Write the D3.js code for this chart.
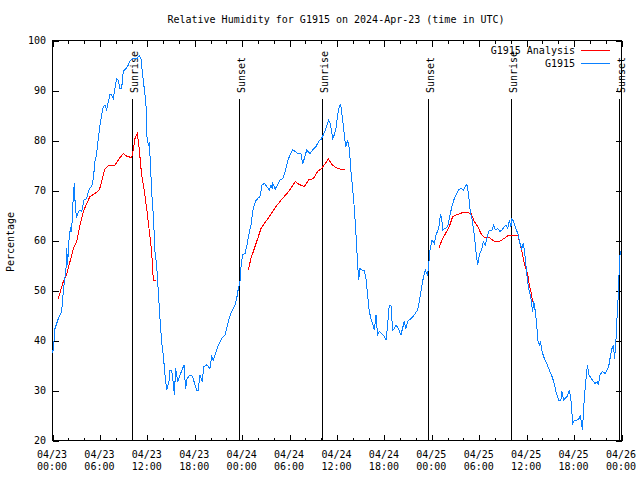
<!DOCTYPE html>
<html><head><meta charset="utf-8">
<script src="https://cdn.jsdelivr.net/npm/d3@7"></script>
<style>
body{margin:0;background:#fff;}
svg{display:block;}
text{font-family:"DejaVu Sans Mono","Liberation Mono",monospace;font-size:10px;fill:#000;}
</style></head><body>
<svg id="chart" width="640" height="480"></svg>
<script>
// ---- data ----
const titleText = "Relative Humidity for G1915 on 2024-Apr-23 (time in UTC)";
const yLabelText = "Percentage";
const seriesNames = ["G1915 Analysis", "G1915"];
const seriesColors = ["#ff0000", "#0a80ff"];
const startTime = "2024-04-23T00:00Z";
const endTime = "2024-04-26T00:00Z";
const yTicks = [20, 30, 40, 50, 60, 70, 80, 90, 100];
const sunEventTimes = ["2024-04-23T10:10Z","2024-04-23T23:42Z","2024-04-24T10:08Z","2024-04-24T23:37Z","2024-04-25T10:05Z","2024-04-25T23:43Z"];
const sunEventLabels = ["Sunrise","Sunset","Sunrise","Sunset","Sunrise","Sunset"];

// observations: hours since start, RH %
const obsHours = [0.0,0.17,0.38,0.8,1.22,1.43,1.77,1.86,1.97,2.19,2.36,2.48,2.7,2.83,2.95,3.12,3.46,3.75,4.05,4.39,4.72,5.02,5.23,5.44,5.65,5.86,6.07,6.28,6.5,6.71,6.92,7.13,7.34,7.55,7.76,7.97,8.18,8.39,8.6,8.81,9.02,9.36,9.66,9.87,10.2,10.5,10.71,11.05,11.26,11.47,11.77,11.9,11.98,12.19,12.32,12.48,12.61,12.82,13.03,13.24,13.45,13.66,13.87,14.08,14.3,14.51,14.72,14.85,14.93,15.14,15.35,15.48,15.65,15.9,16.2,16.7,16.9,17.1,17.46,17.8,17.97,18.3,18.5,18.73,19.0,19.23,19.57,19.78,19.99,20.2,20.41,20.62,21.05,21.47,21.89,22.31,22.73,23.15,23.37,23.58,23.79,23.9,24.1,24.43,24.68,24.89,25.18,25.39,25.73,26.03,26.32,26.57,26.87,27.17,27.5,27.7,27.88,27.95,28.25,28.85,29.2,29.52,29.8,30.11,30.45,30.79,31.08,31.5,31.72,31.93,32.23,32.65,32.99,33.4,33.74,34.08,34.33,34.67,35.01,35.22,35.51,35.72,35.93,36.15,36.36,36.53,36.7,36.86,37.03,37.2,37.41,37.62,37.83,38.04,38.26,38.47,38.68,38.8,38.97,39.22,39.52,39.73,39.94,40.15,40.36,40.57,40.78,41.0,41.2,41.42,41.7,42.05,42.26,42.47,42.68,42.89,43.1,43.31,43.52,43.83,44.15,44.57,44.78,44.99,45.42,45.84,46.26,46.47,46.68,46.89,47.23,47.52,47.67,47.8,48.08,48.38,48.59,48.93,49.14,49.3,49.43,49.75,50.07,50.36,50.61,50.91,51.2,51.46,51.75,52.05,52.3,52.51,52.72,52.93,53.14,53.44,53.65,53.86,54.07,54.41,54.58,54.83,55.13,55.34,55.68,55.89,56.1,56.4,56.69,56.94,57.24,57.45,57.66,57.87,58.08,58.2,58.4,58.71,59.0,59.22,59.43,59.64,59.8,59.97,60.18,60.4,60.61,60.82,60.95,61.16,61.33,61.5,61.67,61.8,62.01,62.3,62.6,62.93,63.27,63.56,63.77,64.11,64.4,64.53,64.74,65.17,65.47,65.68,65.89,66.15,66.45,66.69,66.86,67.12,67.33,67.54,67.75,67.96,68.38,68.72,69.0,69.14,69.35,69.65,69.99,70.44,70.61,70.86,71.03,71.2,71.37,71.54,71.71,71.79,71.92,72.0];
const obsRH = [37.5,38,42.3,44.3,45.7,49.7,54.3,58.3,55,61,62.3,61.7,69,71.3,66.3,64.7,66,65.7,68,68.3,70.3,70.7,72.3,75.7,77.3,80.3,83,85,86.7,87,86,87.7,89.1,89,88.3,90.3,92.3,92,90.3,90.3,93.7,94.3,95,95.8,96.3,96.3,96.2,96.9,96.3,93,89,86.7,81,79,79.3,74.3,69.7,65,57.7,55,49.7,44.3,39.7,37,33,30,31.3,32,34,34,31.3,29,34.3,31.7,33,35,30.3,32.3,33,32.7,31.7,30,30,33,31.7,34.7,35,34.7,34.3,36.7,36,37,39,40.3,41,43.7,45.7,47,48.3,50.3,51.7,54.3,57,57.3,59,61,63,65.7,67.7,68.3,68.7,71,71.3,70.7,70,71,70.3,71.3,70.2,72,72.3,73.7,75.7,77,78,77.7,77.3,77.3,75.3,76.3,78,77.3,78,78.7,79.7,80.2,81,82.3,84,83.3,80.3,81,82.3,85,86.7,87.1,85,83,80.3,78.7,80,78.3,73.7,70.3,66.3,61,55,52,54.3,54,54,52.3,49,45.7,44.3,43.3,42,45,41,41.7,41.3,40.7,40,43,47,47,42,42.3,43,42.3,41,43.7,42.3,43.7,44.3,45,46,47.7,49.7,51.7,54,53,55,57.7,60,59.3,61,62.3,65,64.7,62,62.3,62.7,65,66.7,68.3,69.3,70,70.3,70,70.7,71.1,69,65.7,64.3,61,57.7,55,57,58.3,59.7,59,61,62,62,63,62,62.3,61.7,62,62.7,63,62.3,64,62.7,64.3,63.7,62.3,61,59.3,58.3,59.3,57.7,55,51.7,49.7,48.3,45.7,47.7,45.7,43,39.7,39,39.7,37.7,36.3,35.3,34,32.7,31.3,29.7,28,28,29.7,28,28.7,30,27.7,23.3,24,24,24.3,25,22,27.7,31.7,35,33,32,31.3,31.7,31,33,33.7,33.3,34.7,36.3,38.3,39,36.3,40.3,45.7,50.3,55.7,57.7,57];

// analysis: hours since start, RH % (three runs)
const anaHours = [
  [0.8,1.43,1.77,2.28,2.7,3.12,3.54,3.97,4.39,4.81,5.44,5.99,6.28,6.71,7.13,7.97,8.52,9.02,9.53,10.08,10.29,10.5,10.8,11.05,11.34,11.64,11.98,12.32,12.61,12.82,13.11],
  [24.84,25.18,25.6,26.03,26.45,26.87,27.5,27.92,28.34,28.85,29.39,29.94,30.37,30.79,31.29,31.93,32.47,33.07,33.61,34.11,34.58,34.97,35.43,35.93,36.57,37.03],
  [48.93,49.35,49.86,50.28,50.7,51.33,51.97,52.6,53.03,53.44,53.86,54.28,54.71,55.34,55.98,56.61,57.11,57.66,58.3,58.93,59.22,59.47,59.77,60.18,60.4,60.61,60.82]
];
const anaRH = [
  [48.3,51.7,52.7,55.7,58.3,59.7,63,65.7,67.3,68.7,69.3,70,71.7,74.3,74.8,75,76.3,77.3,76.7,76.5,78,80.3,81.3,78,73,70.3,66.3,61.7,57.7,52,51.8],
  [54.1,56.3,58.3,60.3,62.3,63.3,64.7,65.7,66.7,67.7,68.7,69.7,70.7,71.7,71.1,70.7,72,72.3,73.7,74.3,75.3,76.2,75.1,74.5,74.1,74.1],
  [58.3,60,61.5,62.7,64.7,65.1,65.5,65.5,65.3,63.7,62.7,61.3,60.5,60.5,59.7,59.7,60.2,60.8,60.9,61,59.3,57.7,55.3,53.3,51,49.7,47.7]
];

// ---- chart ----
const svg = d3.select("#chart");
const t0 = new Date(startTime), t1 = new Date(endTime);
const H = 3600e3;
const x = d3.scaleUtc().domain([t0, t1]).range([52, 621]);
const y = d3.scaleLinear().domain([20, 100]).range([440, 40]);
const g = svg.append("g").attr("transform", "translate(0.5,0.5)");

// ticks
const majorT = d3.utcHour.every(6).range(t0, new Date(+t1 + 1));
const minorT = d3.utcHour.every(2).range(t0, new Date(+t1 + 1)).filter(d => d.getUTCHours() % 6 !== 0);
const fmtD = d3.utcFormat("%m/%d"), fmtH = d3.utcFormat("%H:%M");

g.append("g").attr("transform", "translate(0,440)")
  .call(d3.axisBottom(x).tickValues(majorT).tickSize(-6).tickFormat(""));
g.append("g").attr("transform", "translate(0,440)")
  .call(d3.axisBottom(x).tickValues(minorT).tickSize(-3).tickFormat(""));
g.append("g").attr("transform", "translate(0,40)")
  .call(d3.axisTop(x).tickValues(majorT).tickSize(-6).tickFormat(""));
g.append("g").attr("transform", "translate(0,40)")
  .call(d3.axisTop(x).tickValues(minorT).tickSize(-3).tickFormat(""));
g.append("g").attr("transform", "translate(52,0)")
  .call(d3.axisLeft(y).tickValues(yTicks).tickSize(-6).tickFormat(""));
g.append("g").attr("transform", "translate(621,0)")
  .call(d3.axisRight(y).tickValues(yTicks).tickSize(-6).tickFormat(""));
g.selectAll(".domain").remove();
g.selectAll(".tick line").attr("stroke", "#000").attr("shape-rendering", "crispEdges");

// x labels
const xl = svg.append("g");
majorT.forEach(d => {
  const t = xl.append("text").attr("x", x(d)).attr("text-anchor", "middle");
  t.append("tspan").attr("x", x(d)).attr("y", 457.5).text(fmtD(d));
  t.append("tspan").attr("x", x(d)).attr("y", 470).text(fmtH(d));
});
// y labels
svg.append("g").selectAll("text").data(yTicks).join("text")
  .attr("x", 46).attr("y", d => y(d)).attr("dy", "0.35em")
  .attr("text-anchor", "end").text(d => d);

// sun events
sunEventTimes.forEach((s, i) => {
  const xp = Math.round(x(new Date(s)));
  g.append("line").attr("x1", xp).attr("x2", xp).attr("y1", 98).attr("y2", 440)
    .attr("stroke", "#000").attr("shape-rendering", "crispEdges");
  svg.append("text").attr("transform", `translate(${xp + 2},93) rotate(-90)`)
    .attr("dominant-baseline", "central").attr("text-anchor", "start").text(sunEventLabels[i]);
});

// series
const line = d3.line().x(d => x(new Date(+t0 + d[0] * H))).y(d => y(d[1]));
svg.append("clipPath").attr("id", "pc").append("rect")
  .attr("x", 52).attr("y", 40).attr("width", 569).attr("height", 400);
const plot = svg.append("g").attr("clip-path", "url(#pc)");
anaHours.forEach((hs, k) => {
  plot.append("path").attr("d", line(hs.map((h, i) => [h, anaRH[k][i]])))
    .attr("fill", "none").attr("stroke", seriesColors[0]).attr("stroke-width", 1)
    .attr("shape-rendering", "crispEdges");
});
plot.append("path").attr("d", line(obsHours.map((h, i) => [h, obsRH[i]])))
  .attr("fill", "none").attr("stroke", seriesColors[1]).attr("stroke-width", 1)
  .attr("shape-rendering", "crispEdges");

// border
g.append("rect").attr("x", 52).attr("y", 40).attr("width", 569).attr("height", 400)
  .attr("fill", "none").attr("stroke", "#000").attr("shape-rendering", "crispEdges");

// legend
seriesNames.forEach((n, i) => {
  const yy = 50 + i * 13;
  svg.append("text").attr("x", 575).attr("y", yy).attr("dy", "0.35em").attr("text-anchor", "end").text(n);
  svg.append("line").attr("x1", 581).attr("x2", 610).attr("y1", yy + 0.5).attr("y2", yy + 0.5)
    .attr("stroke", seriesColors[i]).attr("stroke-width", 1).attr("shape-rendering", "crispEdges");
});

// title & y label
svg.append("text").attr("x", 336).attr("y", 23).attr("text-anchor", "middle").text(titleText);
svg.append("text").attr("transform", "translate(10,242) rotate(-90)")
  .attr("dominant-baseline", "central").attr("text-anchor", "middle").text(yLabelText);
</script>
</body></html>
